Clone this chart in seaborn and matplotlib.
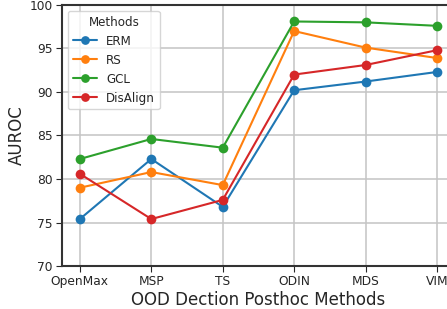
import pandas as pd
import matplotlib
matplotlib.use("Agg")
import matplotlib.pyplot as plt
import seaborn as sns

# values
posthoc = ["OpenMax", "MSP", "TS", "ODIN", "MDS", "VIM"]
methods = ["ERM", "RS", "GCL", "DisAlign"]
erm = [75.4, 82.3, 76.8, 90.2, 91.2, 92.3]
rs = [79.0, 80.8, 79.3, 97.0, 95.1, 93.9]
gcl = [82.3, 84.6, 83.6, 98.1, 98.0, 97.6]
disalign = [80.6, 75.4, 77.6, 92.0, 93.1, 94.8]

data = pd.DataFrame({
    "posthoc": posthoc * 4,
    "method": [m for m in methods for _ in posthoc],
    "auroc": erm + rs + gcl + disalign,
})

sns.set_style("ticks")
plt.rcParams["font.family"] = ["DejaVu Sans"]

fig = plt.figure(figsize=(4.47, 3.09), dpi=100)
ax = fig.add_axes([0.1387, 0.139, 0.879, 0.845])

sns.lineplot(data=data, x="posthoc", y="auroc", hue="method", hue_order=methods,
             palette="tab10", marker="o", markersize=7, markeredgewidth=0,
             linewidth=1.5, ax=ax)

ax.set_xlim(-0.25, 5.25)
ax.set_ylim(70, 100)
ax.set_yticks([70, 75, 80, 85, 90, 95, 100])
ax.grid(True, color="#c4c4c4", linewidth=1.1)
ax.set_axisbelow(True)
for s in ax.spines.values():
    s.set_linewidth(1.5)
    s.set_color("#333333")
ax.tick_params(labelsize=8.8, length=4, pad=2.5)
ax.set_xlabel("OOD Dection Posthoc Methods", fontsize=12, labelpad=2)
ax.set_ylabel("AUROC", fontsize=12, labelpad=3)
ax.legend(title="Methods", loc="upper left", fontsize=8.6, title_fontsize=8.6,
          borderaxespad=0.5, markerscale=0.9)

fig.savefig("out.png", dpi=100)
